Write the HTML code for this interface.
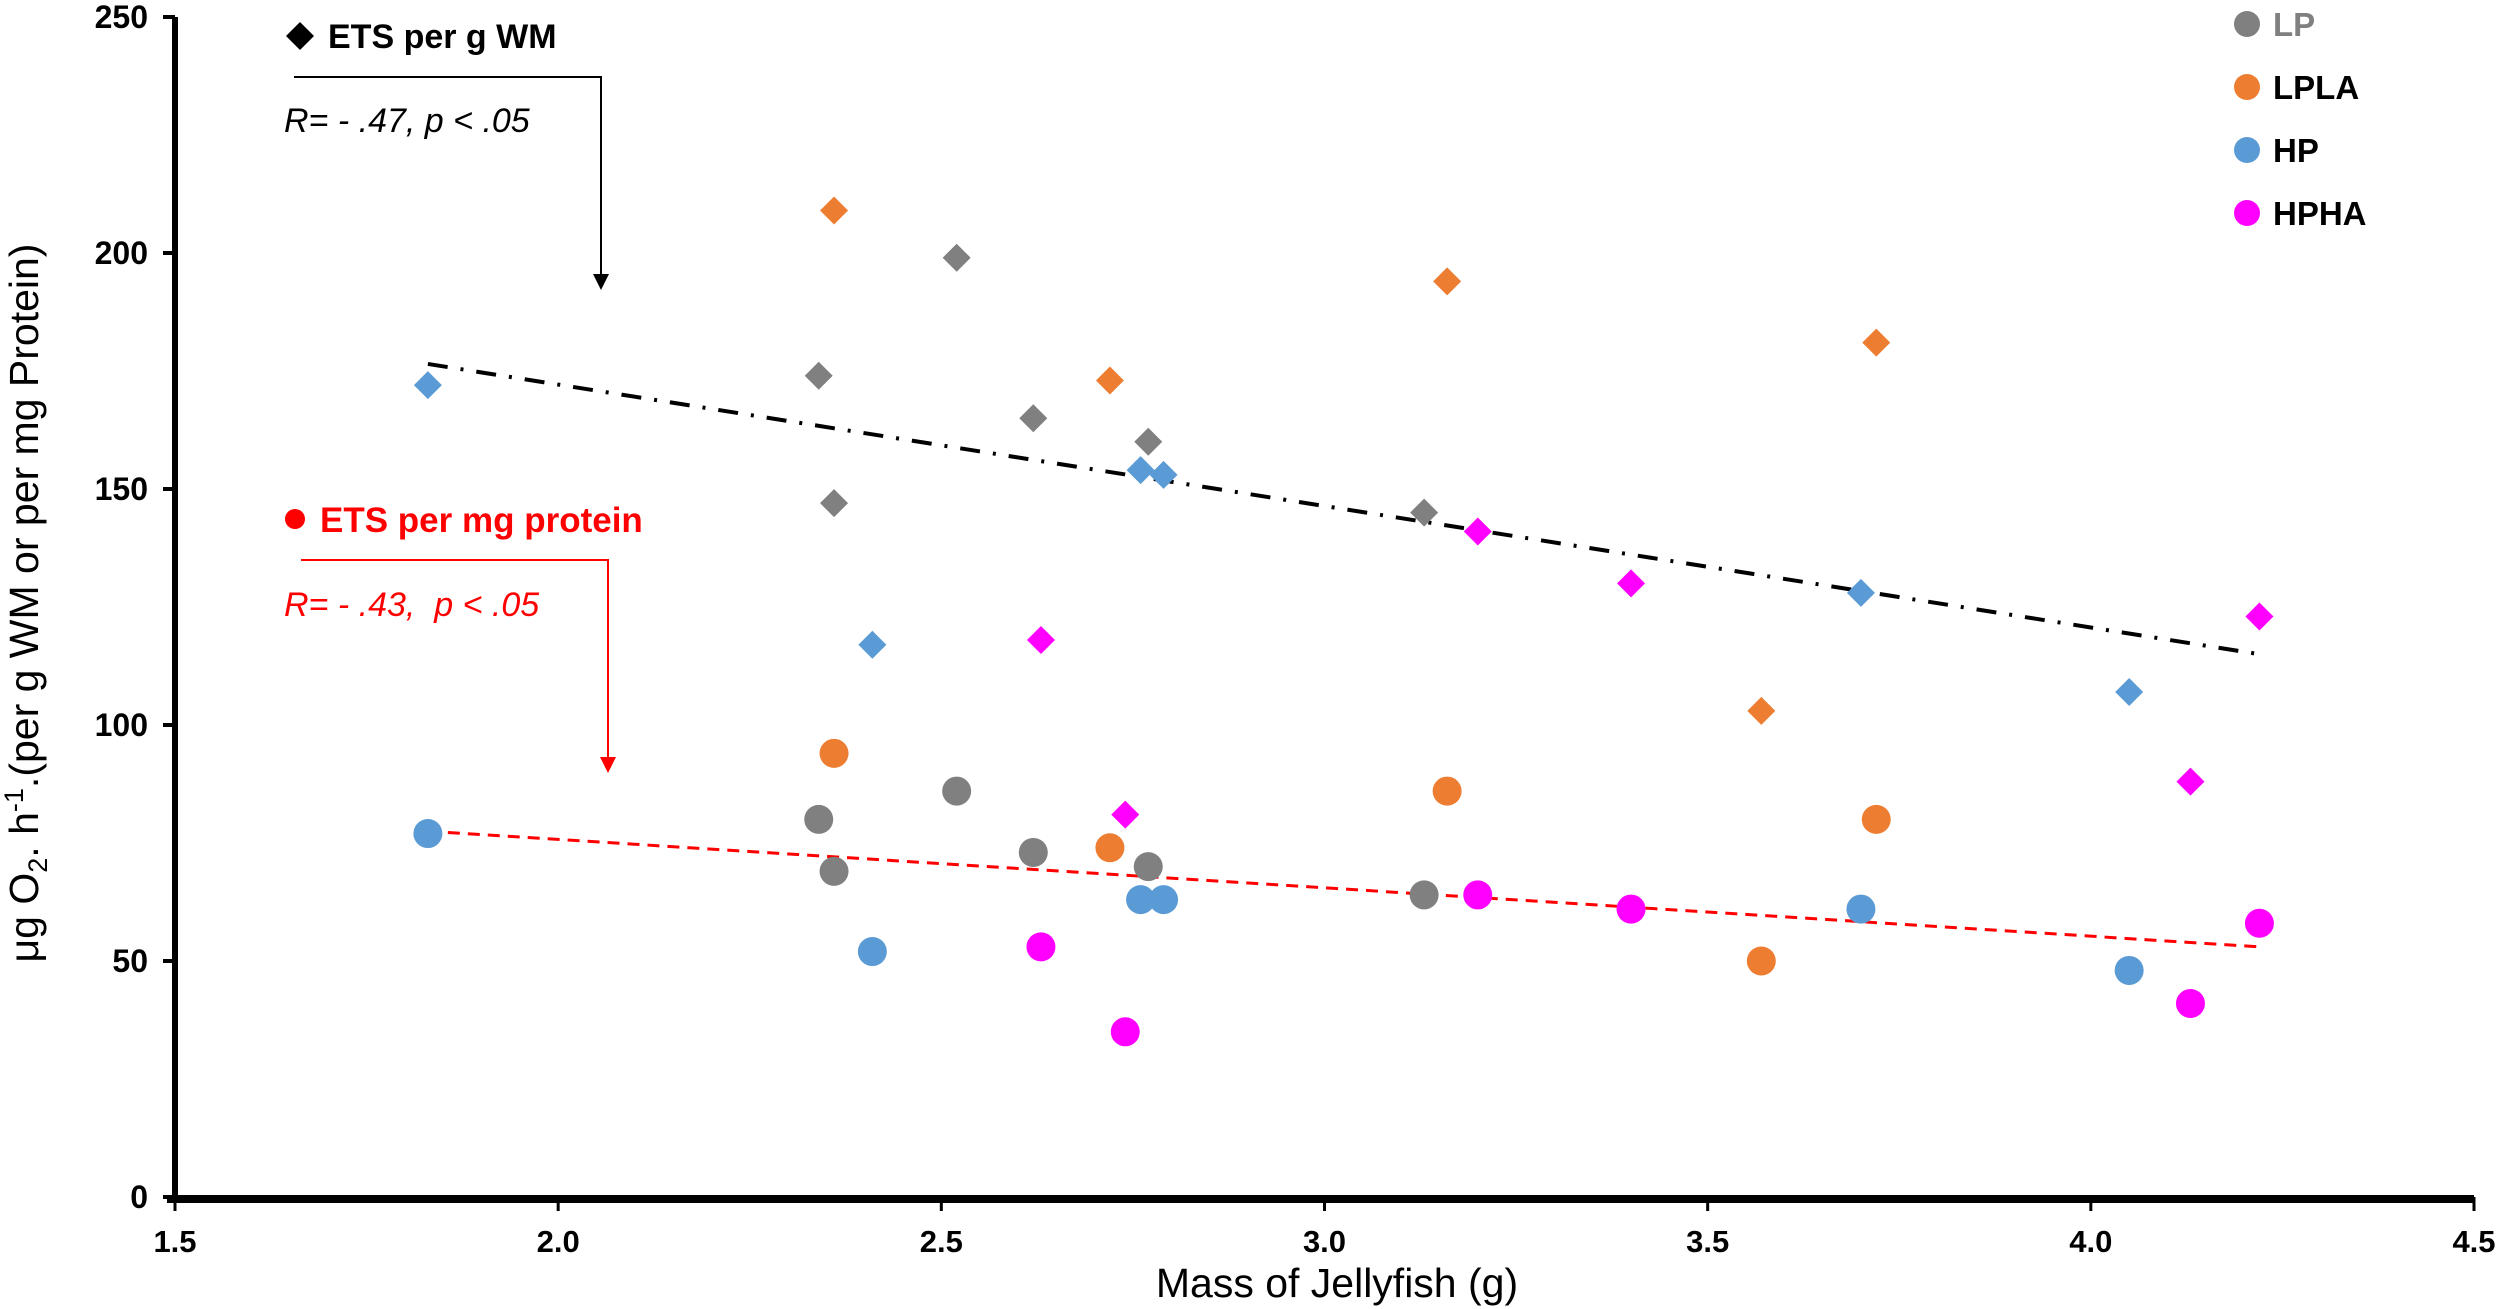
<!DOCTYPE html>
<html><head><meta charset="utf-8">
<style>
html,body{margin:0;padding:0;background:#fff;}
svg{display:block;font-family:"Liberation Sans",Arial,sans-serif;}
</style></head>
<body>
<svg id="chart" width="2500" height="1309" viewBox="0 0 2500 1309" xmlns="http://www.w3.org/2000/svg">
<g id="axes"></g>
<g id="marks"></g>
<g>
  <path d="M300,22 L314,36 L300,50 L286,36Z" fill="#000"/>
  <text x="328" y="48" font-size="34" font-weight="bold" fill="#000">ETS per g WM</text>
  <polyline points="294,77 601,77 601,275" fill="none" stroke="#000" stroke-width="2"/>
  <path d="M593,274 L609,274 L601,290Z" fill="#000"/>
  <text x="284" y="132" font-size="34" font-style="italic" fill="#000">R= - .47, p &lt; .05</text>
</g>
<g>
  <circle cx="295" cy="519" r="10" fill="#ff0000"/>
  <text x="320" y="532" font-size="35" font-weight="bold" fill="#ff0000">ETS per mg protein</text>
  <polyline points="301,560 608,560 608,758" fill="none" stroke="#ff0000" stroke-width="2"/>
  <path d="M600,757 L616,757 L608,773Z" fill="#ff0000"/>
  <text x="284" y="616" font-size="34" font-style="italic" fill="#ff0000">R= - .43,&#160;&#160;p &lt; .05</text>
</g>
<g id="legend"></g>
<text x="1337" y="1297" font-size="41" text-anchor="middle" fill="#000">Mass of Jellyfish (g)</text>
<text transform="translate(38,603) rotate(-90)" font-size="41" text-anchor="middle" fill="#000">μg O<tspan font-size="27" dy="9">2</tspan><tspan dy="-9">. h</tspan><tspan font-size="27" dy="-15">-1</tspan><tspan dy="15">.(per g WM or per mg Protein)</tspan></text>
</svg>
<script>
const xTicks=[1.5,2.0,2.5,3.0,3.5,4.0,4.5];
const yTicks=[0,50,100,150,200,250];
const groups=["LP","LPLA","HP","HPHA"];
const groupColors=["#808080","#ED7D31","#5B9BD5","#FF00FF"];
const massLP=[2.34,2.36,2.52,2.62,2.77,3.13];
const massLPLA=[2.36,2.72,3.16,3.57,3.72];
const massHP=[1.83,2.41,2.76,2.79,3.70,4.05];
const massHPHA=[2.63,2.74,3.20,3.40,4.13,4.22];
const wmLP=[174,147,199,165,160,145];
const wmLPLA=[209,173,194,103,181];
const wmHP=[172,117,154,153,128,107];
const wmHPHA=[118,81,141,130,88,123];
const protLP=[80,69,86,73,70,64];
const protLPLA=[94,74,86,50,80];
const protHP=[77,52,63,63,61,48];
const protHPHA=[53,35,64,61,41,58];
const trendWMx=[1.83,4.22], trendWMy=[176.5,115];
const trendProtX=[1.83,4.22], trendProtY=[77.5,53];

const NS="http://www.w3.org/2000/svg";
const X0=175,X1=2474,Y0=1197,Y1=17;
const xs=v=>X0+(v-1.5)/3*(X1-X0);
const ys=v=>Y0-(v/250)*(Y0-Y1);
function mk(tag,attrs,parent){const e=document.createElementNS(NS,tag);for(const k in attrs)e.setAttribute(k,attrs[k]);parent.appendChild(e);return e;}
const axes=document.getElementById('axes'),marks=document.getElementById('marks'),legend=document.getElementById('legend');

let e=mk('line',{x1:X0,y1:Y1,x2:X0,y2:Y0,stroke:'#000','stroke-width':6},axes);


yTicks.forEach(t=>{
  const y=ys(t);
  let l=mk('line',{x1:X0-12,y1:y,x2:X0,y2:y,stroke:'#000','stroke-width':4},axes);
  
  
  let tx=mk('text',{x:X0-27,y:y+11,'font-size':32,'font-weight':'bold','text-anchor':'end'},axes);
  tx.textContent=t;
  
  
});
e=mk('line',{x1:X0-8,y1:Y0+2,x2:X1,y2:Y0+2,stroke:'#000','stroke-width':8},axes);


xTicks.forEach(t=>{
  const x=xs(t);
  let l=mk('line',{x1:x,y1:Y0,x2:x,y2:Y0+14,stroke:'#000','stroke-width':3},axes);
  
  
  let tx=mk('text',{x:x,y:Y0+55,'font-size':31,'font-weight':'bold','text-anchor':'middle'},axes);
  tx.textContent=t.toFixed(1);
  
  
});

e=mk('line',{x1:xs(trendWMx[0]),y1:ys(trendWMy[0]),x2:xs(trendWMx[1]),y2:ys(trendWMy[1]),stroke:'#000','stroke-width':4,'stroke-dasharray':'20 13 3 13'},marks);


e=mk('line',{x1:xs(trendProtX[0]),y1:ys(trendProtY[0]),x2:xs(trendProtX[1]),y2:ys(trendProtY[1]),stroke:'#ff0000','stroke-width':3,'stroke-dasharray':'12 8'},marks);



const masses=[massLP,massLPLA,massHP,massHPHA];
const wms=[wmLP,wmLPLA,wmHP,wmHPHA];
const prots=[protLP,protLPLA,protHP,protHPHA];
groups.forEach((g,gi)=>{
  masses[gi].forEach((m,i)=>{
    const x=xs(m),y=ys(wms[gi][i]);
    let d=mk('path',{d:`M${x},${y-14} L${x+14},${y} L${x},${y+14} L${x-14},${y}Z`,fill:groupColors[gi]},marks);
    
    
  });
  masses[gi].forEach((m,i)=>{
    let c=mk('circle',{cx:xs(m),cy:ys(prots[gi][i]),r:14.5,fill:groupColors[gi]},marks);
    
    
  });
  const ly=24+gi*63;
  let c=mk('circle',{cx:2247,cy:ly,r:13,fill:groupColors[gi]},legend);
  
  
  let t=mk('text',{x:2273,y:ly+12,'font-size':33,'font-weight':'bold',fill:gi===0?'#808080':'#000'},legend);
  t.textContent=g;
  
  
});
</script>
</body></html>
